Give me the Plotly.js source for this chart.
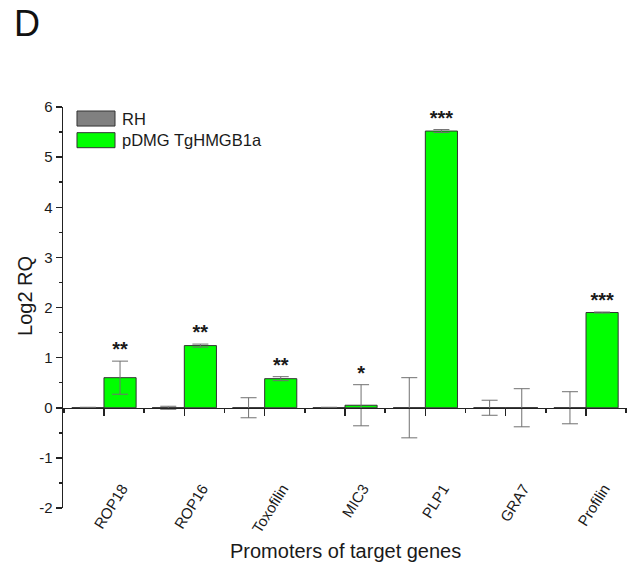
<!DOCTYPE html>
<html>
<head>
<meta charset="utf-8">
<script src="https://cdn.plot.ly/plotly-3.0.1.min.js"></script>
<style>html,body{margin:0;padding:0;background:#fff;}#chart{width:635px;height:566px;}</style>
</head>
<body>
<div id="chart"></div>
<script>
const categories = ["ROP18", "ROP16", "Toxofilin", "MIC3", "PLP1", "GRA7", "Profilin"];
const rhValues = [0, 0, 0, 0, 0, 0, 0];
const rhErrors = [0.01, 0.03, 0.2, 0.01, 0.6, 0.15, 0.32];
const tgValues = [0.6, 1.24, 0.58, 0.05, 5.52, 0, 1.9];
const tgErrors = [0.33, 0.03, 0.04, 0.41, 0.03, 0.38, 0.01];
const significance = ["**", "**", "**", "*", "***", "", "***"];
const seriesNames = ["RH", "pDMG TgHMGB1a"];
const seriesColors = ["#808080", "#00ff00"];
const yTickValues = [-2, -1, 0, 1, 2, 3, 4, 5, 6];
const yTickLabels = ["-2", "-1", "0", "1", "2", "3", "4", "5", "6"];

const FONT = "Liberation Sans, Arial, Helvetica, sans-serif";
const TXT = "#1a1a1a";
const XR = [-0.51, 6.51];

const traces = [
  {
    type: "bar", name: seriesNames[0], x: categories, y: rhValues, showlegend: false,
    marker: {color: seriesColors[0], line: {color: "#333333", width: 1}},
    error_y: {type: "data", array: rhErrors, visible: true, color: "#707070", thickness: 1, width: 8}
  },
  {
    type: "bar", name: seriesNames[1], x: categories, y: tgValues, showlegend: false,
    marker: {color: seriesColors[1], line: {color: "#333333", width: 1}},
    error_y: {type: "data", array: tgErrors, visible: true, color: "#707070", thickness: 1, width: 8}
  },
  {
    type: "scatter", mode: "text", xaxis: "x2", yaxis: "y", showlegend: false, hoverinfo: "skip",
    x: categories.map((c, i) => i + 0.2),
    y: tgValues.map((v, i) => v + tgErrors[i]),
    text: significance.map(s => "<b>" + s + "</b>"), textposition: "top center",
    textfont: {family: FONT, size: 20, color: TXT}
  }
];

// manual legend (large swatches like the original)
const legendShapes = [];
const legendAnnots = [];
const swX0 = 0.0248, swX1 = 0.0922, rowTop = 0.990, rowH = 0.0375, rowStep = 0.0540;
seriesNames.forEach((n, i) => {
  const top = rowTop - i * rowStep;
  legendShapes.push({type: "rect", xref: "paper", yref: "paper", x0: swX0, x1: swX1, y0: top - rowH, y1: top,
                     fillcolor: seriesColors[i], line: {color: "#333333", width: 1}});
  legendAnnots.push({xref: "paper", yref: "paper", x: 0.101, y: top - rowH / 2, xanchor: "left", yanchor: "middle",
                     text: n, showarrow: false, font: {family: FONT, size: 16.5, color: TXT}});
});

const layout = {
  width: 635, height: 566,
  margin: {l: 63, r: 8, t: 107, b: 58},
  paper_bgcolor: "#ffffff", plot_bgcolor: "#ffffff",
  font: {family: FONT, color: TXT},
  title: {text: "D", x: 0.022, xanchor: "left", xref: "container", y: 0.959, yanchor: "middle", yref: "container",
          font: {family: FONT, size: 36, color: "#111111"}},
  barmode: "group", bargap: 0.2, bargroupgap: 0,
  showlegend: false,
  shapes: legendShapes,
  annotations: legendAnnots.concat([
    {xref: "paper", yref: "paper", x: -0.0674, y: 0.5287, xanchor: "center", yanchor: "middle", textangle: -90,
     text: "Log2 RQ", showarrow: false, font: {family: FONT, size: 20, color: TXT}},
    {xref: "paper", yref: "paper", x: 0.5, y: -0.1072, xanchor: "center", yanchor: "middle",
     text: "Promoters of target genes", showarrow: false, font: {family: FONT, size: 20, color: TXT}}
  ]),
  xaxis: {
    type: "category", range: XR, anchor: "free", position: 0.08,
    showline: false, ticks: "", showgrid: false, zeroline: false,
    tickangle: -58, ticklabelshift: 18,
    tickfont: {family: FONT, size: 15, color: TXT},
    automargin: false
  },
  xaxis2: {
    type: "linear", range: XR, overlaying: "x", anchor: "free", position: 0.25,
    showline: true, linecolor: "#222222", linewidth: 1.5,
    ticks: "outside", ticklen: 7, tickwidth: 1.5, tickcolor: "#222222", tick0: 0, dtick: 1,
    minor: {ticks: "outside", ticklen: 4, tickwidth: 1.5, tickcolor: "#222222", dtick: 0.5, tick0: 0, showgrid: false},
    showticklabels: false, showgrid: false, zeroline: false, automargin: false
  },
  yaxis: {
    range: [-2, 6], tickmode: "array", tickvals: yTickValues, ticktext: yTickLabels,
    showline: true, linecolor: "#222222", linewidth: 1.5,
    ticks: "outside", ticklen: 6, tickwidth: 1.5, tickcolor: "#222222",
    minor: {ticks: "outside", ticklen: 3, tickwidth: 1.5, tickcolor: "#222222", dtick: 0.5, showgrid: false},
    showgrid: false, zeroline: false,
    tickfont: {family: FONT, size: 15, color: TXT},
    automargin: false
  }
};

Plotly.newPlot("chart", traces, layout, {displayModeBar: false, staticPlot: true});
</script>
</body>
</html>
